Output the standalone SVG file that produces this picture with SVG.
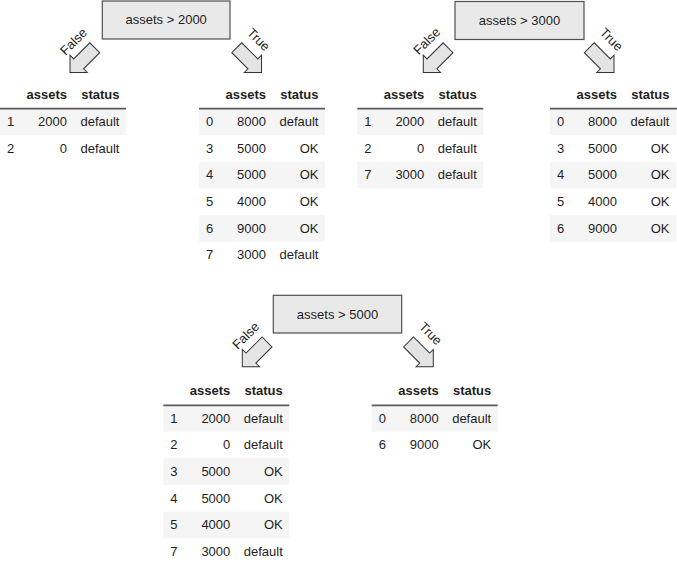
<svg xmlns="http://www.w3.org/2000/svg" width="677" height="565" viewBox="0 0 677 565">
<style>
text{font-family:"Liberation Sans",Arial,sans-serif;font-size:13px;fill:#1e1e1e}
.hd{font-weight:bold}
.r{text-anchor:end}
.c{text-anchor:middle}
.box{fill:#e9e9e9;stroke:#4f4f4f;stroke-width:1.2}
.sh{fill:#f5f5f5}
.hl{stroke:#5c5c5c;stroke-width:1.8}
.arr{fill:#e4e4e4;stroke:#333;stroke-width:1}
</style>
<defs>
<path id="blk" d="M0,0 L-12.2,-12.2 L-12.2,-7 L-35,-7 L-35,7 L-12.2,7 L-12.2,12.2 Z"/>
</defs>
<rect width="677" height="565" fill="#fff"/>

<!-- Tree A -->
<g id="nodeA">
<rect class="box" x="102.3" y="1" width="127.7" height="38"/>
<text class="c" x="166.2" y="24.3">assets &gt; 2000</text>
</g>
<g id="tableA-false" transform="translate(0,108.3)">
<text class="hd r" x="67" y="-9.8">assets</text><text class="hd r" x="119.5" y="-9.8">status</text>
<rect class="sh" x="0" y="0" width="126" height="26.67"/>
<line class="hl" x1="0" y1="0.4" x2="126" y2="0.4"/>
<text x="7" y="17.7">1</text><text class="r" x="67" y="17.7">2000</text><text class="r" x="119.5" y="17.7">default</text>
<text x="7" y="44.4">2</text><text class="r" x="67" y="44.4">0</text><text class="r" x="119.5" y="44.4">default</text>
</g>
<g id="tableA-true" transform="translate(199,108.3)">
<text class="hd r" x="67" y="-9.8">assets</text><text class="hd r" x="119.5" y="-9.8">status</text>
<rect class="sh" x="0" y="0" width="126" height="26.67"/>
<rect class="sh" x="0" y="53.34" width="126" height="26.67"/>
<rect class="sh" x="0" y="106.68" width="126" height="26.67"/>
<line class="hl" x1="0" y1="0.4" x2="126" y2="0.4"/>
<text x="7" y="17.7">0</text><text class="r" x="67" y="17.7">8000</text><text class="r" x="119.5" y="17.7">default</text>
<text x="7" y="44.4">3</text><text class="r" x="67" y="44.4">5000</text><text class="r" x="119.5" y="44.4">OK</text>
<text x="7" y="71.0">4</text><text class="r" x="67" y="71.0">5000</text><text class="r" x="119.5" y="71.0">OK</text>
<text x="7" y="97.7">5</text><text class="r" x="67" y="97.7">4000</text><text class="r" x="119.5" y="97.7">OK</text>
<text x="7" y="124.4">6</text><text class="r" x="67" y="124.4">9000</text><text class="r" x="119.5" y="124.4">OK</text>
<text x="7" y="151.0">7</text><text class="r" x="67" y="151.0">3000</text><text class="r" x="119.5" y="151.0">default</text>
</g>

<!-- Tree B -->
<g id="nodeB">
<rect class="box" x="455" y="1.5" width="129" height="38"/>
<text class="c" x="519.5" y="24.6">assets &gt; 3000</text>
</g>
<g id="tableB-false" transform="translate(357.3,108.3)">
<text class="hd r" x="67" y="-9.8">assets</text><text class="hd r" x="119.5" y="-9.8">status</text>
<rect class="sh" x="0" y="0" width="126" height="26.67"/>
<rect class="sh" x="0" y="53.34" width="126" height="26.67"/>
<line class="hl" x1="0" y1="0.4" x2="126" y2="0.4"/>
<text x="7" y="17.7">1</text><text class="r" x="67" y="17.7">2000</text><text class="r" x="119.5" y="17.7">default</text>
<text x="7" y="44.4">2</text><text class="r" x="67" y="44.4">0</text><text class="r" x="119.5" y="44.4">default</text>
<text x="7" y="71.0">7</text><text class="r" x="67" y="71.0">3000</text><text class="r" x="119.5" y="71.0">default</text>
</g>
<g id="tableB-true" transform="translate(550,108.3)">
<text class="hd r" x="67" y="-9.8">assets</text><text class="hd r" x="119.5" y="-9.8">status</text>
<rect class="sh" x="0" y="0" width="126" height="26.67"/>
<rect class="sh" x="0" y="53.34" width="126" height="26.67"/>
<rect class="sh" x="0" y="106.68" width="126" height="26.67"/>
<line class="hl" x1="0" y1="0.4" x2="127" y2="0.4"/>
<text x="7" y="17.7">0</text><text class="r" x="67" y="17.7">8000</text><text class="r" x="119.5" y="17.7">default</text>
<text x="7" y="44.4">3</text><text class="r" x="67" y="44.4">5000</text><text class="r" x="119.5" y="44.4">OK</text>
<text x="7" y="71.0">4</text><text class="r" x="67" y="71.0">5000</text><text class="r" x="119.5" y="71.0">OK</text>
<text x="7" y="97.7">5</text><text class="r" x="67" y="97.7">4000</text><text class="r" x="119.5" y="97.7">OK</text>
<text x="7" y="124.4">6</text><text class="r" x="67" y="124.4">9000</text><text class="r" x="119.5" y="124.4">OK</text>
</g>

<!-- Tree C -->
<g id="nodeC">
<rect class="box" x="273.3" y="295.3" width="128.4" height="37.7"/>
<text class="c" x="337.5" y="318.7">assets &gt; 5000</text>
</g>
<g id="tableC-false" transform="translate(163.3,405)">
<text class="hd r" x="67" y="-9.8">assets</text><text class="hd r" x="119.5" y="-9.8">status</text>
<rect class="sh" x="0" y="0" width="126" height="26.67"/>
<rect class="sh" x="0" y="53.34" width="126" height="26.67"/>
<rect class="sh" x="0" y="106.68" width="126" height="26.67"/>
<line class="hl" x1="0" y1="0.4" x2="126" y2="0.4"/>
<text x="7" y="17.7">1</text><text class="r" x="67" y="17.7">2000</text><text class="r" x="119.5" y="17.7">default</text>
<text x="7" y="44.4">2</text><text class="r" x="67" y="44.4">0</text><text class="r" x="119.5" y="44.4">default</text>
<text x="7" y="71.0">3</text><text class="r" x="67" y="71.0">5000</text><text class="r" x="119.5" y="71.0">OK</text>
<text x="7" y="97.7">4</text><text class="r" x="67" y="97.7">5000</text><text class="r" x="119.5" y="97.7">OK</text>
<text x="7" y="124.4">5</text><text class="r" x="67" y="124.4">4000</text><text class="r" x="119.5" y="124.4">OK</text>
<text x="7" y="151.0">7</text><text class="r" x="67" y="151.0">3000</text><text class="r" x="119.5" y="151.0">default</text>
</g>
<g id="tableC-true" transform="translate(371.7,405)">
<text class="hd r" x="67" y="-9.8">assets</text><text class="hd r" x="119.5" y="-9.8">status</text>
<rect class="sh" x="0" y="0" width="126" height="26.67"/>
<line class="hl" x1="0" y1="0.4" x2="126" y2="0.4"/>
<text x="7" y="17.7">0</text><text class="r" x="67" y="17.7">8000</text><text class="r" x="119.5" y="17.7">default</text>
<text x="7" y="44.4">6</text><text class="r" x="67" y="44.4">9000</text><text class="r" x="119.5" y="44.4">OK</text>
</g>

<!-- Connectors -->
<g id="connectors">
<use href="#blk" class="arr" transform="translate(70,72.5) rotate(135)"/>
<text class="c" transform="translate(73.5,41.5) rotate(-45)" y="4.5">False</text>
<use href="#blk" class="arr" transform="translate(261.5,72.5) rotate(45)"/>
<text class="c" transform="translate(258.6,39.5) rotate(45)" y="4.5">True</text>

<use href="#blk" class="arr" transform="translate(423.3,72.5) rotate(135)"/>
<text class="c" transform="translate(426.8,41) rotate(-45)" y="4.5">False</text>
<use href="#blk" class="arr" transform="translate(614,72.5) rotate(45)"/>
<text class="c" transform="translate(611.5,39.3) rotate(45)" y="4.5">True</text>

<use href="#blk" class="arr" transform="translate(242.3,366.7) rotate(135)"/>
<text class="c" transform="translate(245.8,335.5) rotate(-45)" y="4.5">False</text>
<use href="#blk" class="arr" transform="translate(433.3,366.7) rotate(45)"/>
<text class="c" transform="translate(430.6,333.5) rotate(45)" y="4.5">True</text>
</g>
</svg>
